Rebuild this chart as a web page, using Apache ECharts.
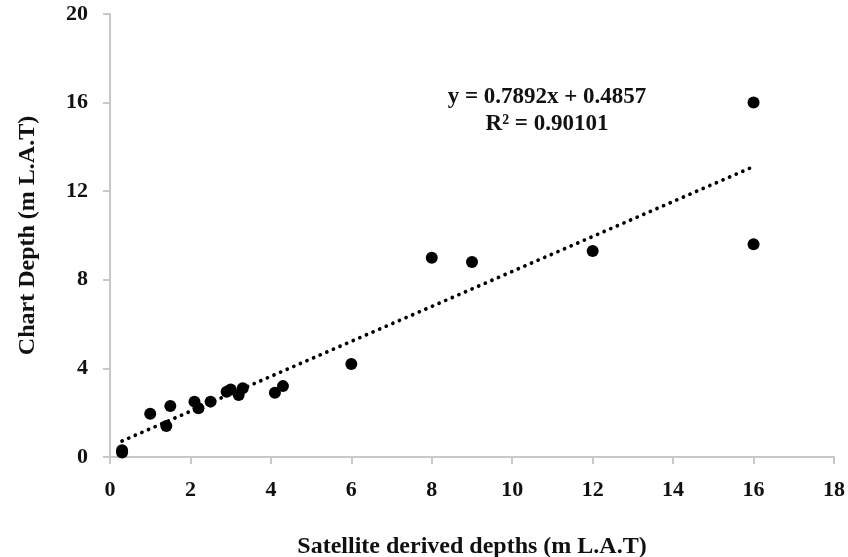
<!DOCTYPE html>
<html>
<head>
<meta charset="utf-8">
<script src="https://cdn.jsdelivr.net/npm/echarts@6/dist/echarts.min.js"></script>
<style>
  html, body { margin: 0; padding: 0; background: #fff; }
  #chart { width: 848px; height: 557px; }
</style>
</head>
<body>
<div id="chart"></div>
<script>
// Satellite-derived depth vs. charted depth (both in m L.A.T)
var satelliteDepth = [0.3, 0.3, 1.0, 1.4, 1.5, 2.1, 2.2, 2.5, 2.9, 3.0, 3.2, 3.3, 4.1, 4.3, 6, 8, 9, 12, 16, 16];
var chartDepth     = [0.2, 0.3, 1.95, 1.4, 2.3, 2.5, 2.2, 2.5, 2.95, 3.05, 2.8, 3.1, 2.9, 3.2, 4.2, 9.0, 8.8, 9.3, 9.6, 16.0];

// Linear regression reported for the data
var slope = 0.7892;
var intercept = 0.4857;
var rSquared = '0.90101';

var xTicks = { min: 0, max: 18, interval: 2 };
var yTicks = { min: 0, max: 20, interval: 4 };

var points = satelliteDepth.map(function (x, i) { return [x, chartDepth[i]]; });
var xLo = Math.min.apply(null, satelliteDepth);
var xHi = Math.max.apply(null, satelliteDepth);
var trend = [[xLo, slope * xLo + intercept], [xHi, slope * xHi + intercept]];

var FONT = '"Liberation Serif", "Times New Roman", serif';
var axisGrey = '#c8c8c8';
var tickStyle = { fontFamily: FONT, fontWeight: 'bold', fontSize: 22, color: '#111' };
var titleStyle = { fontFamily: FONT, fontWeight: 'bold', fontSize: 24, color: '#111' };

var chart = echarts.init(document.getElementById('chart'), null, { renderer: 'canvas' });
chart.setOption({
  animation: false,
  backgroundColor: '#fff',
  grid: { left: 110, right: 14, top: 14, bottom: 100, containLabel: false, outerBoundsMode: 'none' },
  xAxis: {
    type: 'value',
    min: xTicks.min, max: xTicks.max, interval: xTicks.interval,
    name: 'Satellite derived depths (m L.A.T)',
    nameLocation: 'middle',
    nameGap: 78,
    nameTextStyle: titleStyle,
    axisLine: { show: true, lineStyle: { color: axisGrey, width: 2 } },
    axisTick: { show: true, inside: false, length: 7, lineStyle: { color: axisGrey, width: 2 } },
    axisLabel: Object.assign({ margin: 22 }, tickStyle),
    splitLine: { show: false }
  },
  yAxis: {
    type: 'value',
    min: yTicks.min, max: yTicks.max, interval: yTicks.interval,
    name: 'Chart Depth (m L.A.T)',
    nameLocation: 'middle',
    nameGap: 70,
    nameRotate: 90,
    nameTextStyle: titleStyle,
    axisLine: { show: true, lineStyle: { color: axisGrey, width: 2 } },
    axisTick: { show: true, inside: false, length: 7, lineStyle: { color: axisGrey, width: 2 } },
    axisLabel: Object.assign({ margin: 22 }, tickStyle),
    splitLine: { show: false }
  },
  graphic: [
    {
      type: 'text',
      x: 547, y: 97,
      style: {
        text: 'y = ' + slope + 'x + ' + intercept,
        font: 'bold 23px ' + FONT,
        fill: '#111',
        align: 'center',
        verticalAlign: 'middle'
      }
    },
    {
      type: 'text',
      x: 547, y: 124,
      style: {
        text: 'R² = ' + rSquared,
        font: 'bold 23px ' + FONT,
        fill: '#111',
        align: 'center',
        verticalAlign: 'middle'
      }
    }
  ],
  series: [
    {
      type: 'line',
      data: trend,
      showSymbol: false,
      symbol: 'none',
      silent: true,
      z: 1,
      lineStyle: { color: '#000', width: 3.7, type: [0.1, 7.1], cap: 'round' }
    },
    {
      type: 'scatter',
      data: points,
      symbol: 'circle',
      symbolSize: 12,
      z: 2,
      itemStyle: { color: '#000', opacity: 1 }
    }
  ]
});
</script>
</body>
</html>
